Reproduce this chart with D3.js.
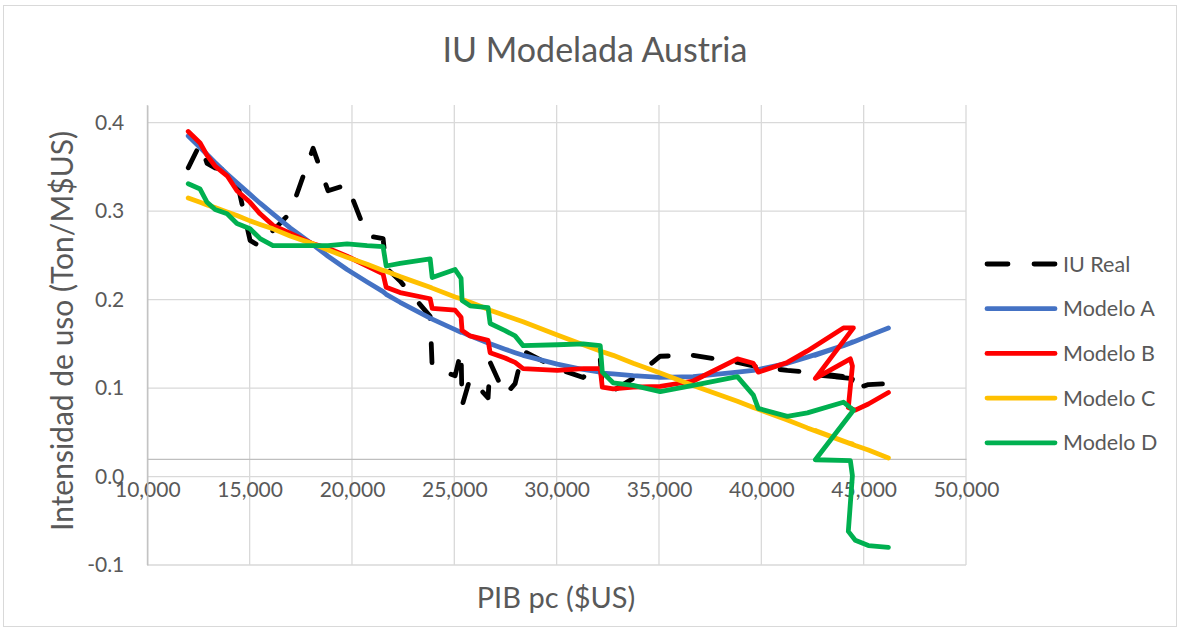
<!DOCTYPE html>
<html lang="es">
<head>
	<meta charset="utf-8">
	<title>IU Modelada Austria</title>
	<script src="https://d3js.org/d3.v7.min.js"></script>
	<style type="text/css">
		body{ margin:0; background:#fff; }
		text{ font-family: Lato, "Open Sans", sans-serif; fill:#595959; }
	</style>
</head>

<body>
	<script type="text/javascript">
	// values (one entry per year, x is not monotonic)
	var pibPc = [12000, 12580, 12920, 13310, 13900, 14380, 15020, 15510, 16140, 16980,
		18100, 18830, 19760, 20740, 21520, 21670, 22350, 23820, 23920, 25040,
		25330, 25380, 25770, 26650, 26750, 27480, 27970, 28360, 30030, 31300,
		32130, 32230, 32760, 33740, 35060, 36670, 38830, 39610, 39850, 41270,
		42250, 44010, 44500, 42640, 44350, 44450, 44250, 44590, 45230, 46210]

	var iuReal = [0.349, 0.376, 0.354, 0.349, 0.346, 0.334, 0.267, 0.260, 0.278, 0.298,
		0.371, 0.323, 0.330, 0.272, 0.269, 0.236, 0.221, 0.181, 0.123, 0.114,
		0.142, 0.080, 0.111, 0.089, 0.129, 0.092, 0.105, 0.142, 0.122, 0.112,
		0.133, 0.099, 0.097, 0.111, 0.136, 0.137, 0.129, 0.125, 0.124, 0.120,
		0.118, 0.113, 0.111, 0.115, 0.111, 0.110, 0.099, 0.099, 0.104, 0.105]

	var modeloA = [0.385, 0.372, 0.364, 0.355, 0.342, 0.332, 0.319, 0.309, 0.297, 0.281,
		0.262, 0.249, 0.234, 0.220, 0.209, 0.206, 0.197, 0.179, 0.178, 0.166,
		0.163, 0.163, 0.159, 0.151, 0.150, 0.144, 0.140, 0.137, 0.127, 0.121,
		0.118, 0.117, 0.116, 0.114, 0.112, 0.113, 0.118, 0.120, 0.121, 0.128,
		0.135, 0.148, 0.152, 0.137, 0.151, 0.152, 0.150, 0.153, 0.159, 0.168]

	var modeloB = [0.390, 0.377, 0.363, 0.351, 0.340, 0.323, 0.310, 0.297, 0.284, 0.275,
		0.263, 0.258, 0.249, 0.238, 0.229, 0.214, 0.208, 0.201, 0.190, 0.188,
		0.180, 0.165, 0.159, 0.154, 0.140, 0.134, 0.129, 0.122, 0.120, 0.122,
		0.122, 0.101, 0.099, 0.101, 0.102, 0.108, 0.133, 0.128, 0.118, 0.129,
		0.142, 0.168, 0.168, 0.111, 0.133, 0.125, 0.078, 0.075, 0.082, 0.095]

	var modeloC = [0.315, 0.310, 0.307, 0.304, 0.299, 0.295, 0.289, 0.285, 0.280, 0.272,
		0.263, 0.256, 0.248, 0.240, 0.233, 0.232, 0.226, 0.214, 0.213, 0.203,
		0.201, 0.200, 0.197, 0.189, 0.188, 0.182, 0.178, 0.175, 0.160, 0.149,
		0.142, 0.141, 0.137, 0.128, 0.117, 0.103, 0.085, 0.078, 0.076, 0.064,
		0.055, 0.040, 0.036, 0.052, 0.037, 0.037, 0.038, 0.035, 0.030, 0.021]

	var modeloD = [0.331, 0.325, 0.310, 0.302, 0.297, 0.286, 0.280, 0.269, 0.261, 0.261,
		0.261, 0.261, 0.263, 0.261, 0.260, 0.238, 0.241, 0.246, 0.225, 0.234,
		0.224, 0.199, 0.193, 0.191, 0.173, 0.165, 0.159, 0.148, 0.149, 0.150,
		0.148, 0.118, 0.106, 0.103, 0.096, 0.103, 0.113, 0.092, 0.077, 0.068,
		0.072, 0.084, 0.075, 0.019, 0.018, 0.001, -0.062, -0.072, -0.078, -0.080]

	var seriesNames = ["IU Real", "Modelo A", "Modelo B", "Modelo C", "Modelo D"]
	var yTicks = [-0.1, 0.0, 0.1, 0.2, 0.3, 0.4]
	var xTicks = [10000, 15000, 20000, 25000, 30000, 35000, 40000, 45000, 50000]

	// colours (excel office palette)
	var colors = ["#000000", "#4472c4", "#ff0000", "#ffc000", "#00b050"]
	var gridColor = "#d9d9d9"
	var axisColor = "#bfbfbf"

	// window + plot area  (don't name it "top", window.top is read only!)
	var w = 1180
	var h = 630
	var plotL = 147.3, plotR = 966, plotT = 105, plotB = 565

	var xScale = d3.scaleLinear().domain([10000, 50000]).range([plotL, plotR])
	var yScale = d3.scaleLinear().domain([-0.1, 0.42]).range([plotB, plotT])

	// hyphen instead of unicode minus, comma thousands
	var loc = d3.formatLocale({decimal: ".", thousands: ",", grouping: [3], currency: ["$", ""], minus: "-"})

	var svg = d3.select("body")
				.append("svg")
				.attr("width", w)
				.attr("height", h)

	// chart border
	svg.append("rect")
		.attr("x", 3.5).attr("y", 5.5)
		.attr("width", w - 7).attr("height", h - 9)
		.attr("fill", "none")
		.attr("stroke", gridColor)

	// gridlines
	svg.append("g")
		.selectAll("line")
		.data(yTicks)
		.enter()
		.append("line")
		.attr("x1", plotL).attr("x2", plotR)
		.attr("y1", d => yScale(d)).attr("y2", d => yScale(d))
		.attr("stroke", gridColor)
		.attr("stroke-width", 1.3)

	svg.append("g")
		.selectAll("line")
		.data(xTicks)
		.enter()
		.append("line")
		.attr("x1", d => xScale(d)).attr("x2", d => xScale(d))
		.attr("y1", plotT).attr("y2", plotB)
		.attr("stroke", gridColor)
		.attr("stroke-width", 1.3)

	// x axis crosses y at 0.02
	var xAxis = d3.axisBottom(xScale).tickValues(xTicks).tickSize(0).tickPadding(23)
					.tickFormat(loc.format(","))
	var gx = svg.append("g")
		.attr("transform", "translate(0," + yScale(0.02) + ")")
		.call(xAxis)
	gx.select(".domain").attr("stroke", axisColor).attr("stroke-width", 1.3)
	gx.selectAll("text").style("font-size", "21px").attr("fill", "#595959")

	// y axis
	var yAxis = d3.axisLeft(yScale).tickValues(yTicks).tickSize(0).tickPadding(23)
					.tickFormat(loc.format(".1f"))
	var gy = svg.append("g")
		.attr("transform", "translate(" + plotL + ",0)")
		.call(yAxis)
	gy.select(".domain").attr("stroke", axisColor).attr("stroke-width", 1.3)
	gy.selectAll("text").style("font-size", "21px").attr("fill", "#595959")

	// lines
	var allSeries = [iuReal, modeloA, modeloB, modeloC, modeloD]
	var line = d3.line()
		.x((d, i) => xScale(pibPc[i]))
		.y(d => yScale(d))

	allSeries.forEach(function(s, k){
		svg.append("path")
			.attr("d", line(s))
			.attr("fill", "none")
			.attr("stroke", colors[k])
			.attr("stroke-width", 4.8)
			.attr("stroke-linejoin", "round")
			.attr("stroke-linecap", "round")
			.style("stroke-dasharray", k == 0 ? "19, 25" : null)
	})

	// title
	svg.append("text")
		.attr("x", 595)
		.attr("y", 62)
		.attr("text-anchor", "middle")
		.style("font-size", "34px")
		.text("IU Modelada Austria")

	// axis labels
	svg.append("text")
		.attr("x", 556)
		.attr("y", 608)
		.attr("text-anchor", "middle")
		.style("font-size", "29px")
		.text("PIB pc ($US)")

	svg.append("text")
		.attr("transform", "translate(73,331) rotate(-90)")
		.attr("text-anchor", "middle")
		.style("font-size", "30px")
		.text("Intensidad de uso (Ton/M$US)")

	// legend
	var legend = svg.append("g")
		.selectAll("g")
		.data(seriesNames)
		.enter()
		.append("g")
		.attr("transform", (d, i) => "translate(985," + (264 + i * 44.7) + ")")

	legend.append("line")
		.attr("x1", 2).attr("x2", 70)
		.attr("stroke", (d, i) => colors[i])
		.attr("stroke-width", 4.8)
		.attr("stroke-linecap", "round")
		.style("stroke-dasharray", (d, i) => i == 0 ? "21, 26" : null)

	legend.append("text")
		.attr("x", 78)
		.attr("dy", "0.35em")
		.style("font-size", "21.5px")
		.text(d => d)
	</script>
</body>
</html>
